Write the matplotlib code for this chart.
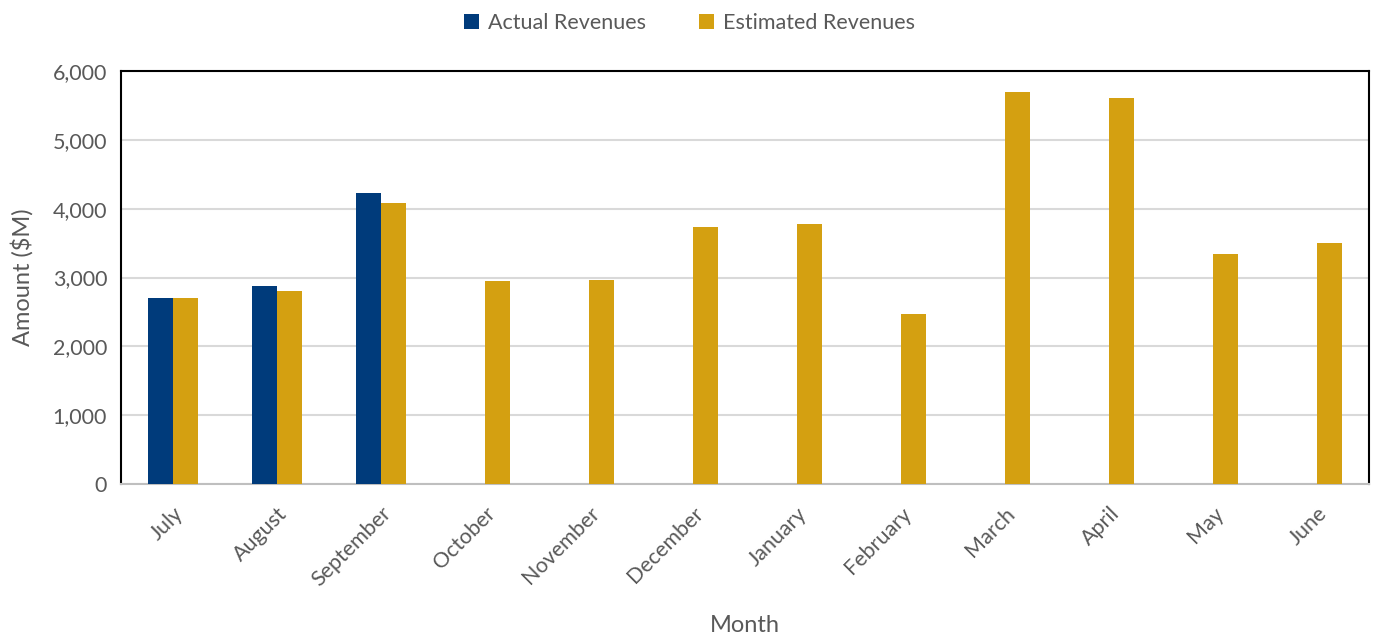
import numpy as np
import matplotlib.pyplot as plt
from matplotlib.ticker import FuncFormatter

months = ['July', 'August', 'September', 'October', 'November', 'December',
          'January', 'February', 'March', 'April', 'May', 'June']
actual = [2700, 2870, 4230, np.nan, np.nan, np.nan,
          np.nan, np.nan, np.nan, np.nan, np.nan, np.nan]
estimated = [2700, 2805, 4085, 2950, 2965, 3735,
             3780, 2470, 5690, 5610, 3340, 3505]

plt.rcParams['font.family'] = ['Lato', 'DejaVu Sans']
grey = '#595959'

fig = plt.figure(figsize=(13.79, 6.35), dpi=100)
ax = fig.add_axes([121/1379, 1-484/635, 1248/1379, 413/635])

x = np.arange(len(months))
w = 0.24
ax.bar(x - w/2, actual, w, color='#003B7B', label='Actual Revenues', zorder=3)
ax.bar(x + w/2, estimated, w, color='#D4A011', label='Estimated Revenues', zorder=3)

ax.set_xlim(-0.5, len(months) - 0.5)
ax.set_ylim(0, 6000)
ax.set_yticks(range(0, 6001, 1000))
ax.yaxis.set_major_formatter(FuncFormatter(lambda v, p: f'{int(v):,}'))
ax.grid(axis='y', color='#D9D9D9', linewidth=1.5, zorder=0)
ax.set_xticks(x)
ax.set_xticklabels(months, rotation=45, ha='right', rotation_mode='anchor')
ax.tick_params(axis='both', length=0, labelsize=15.5, colors=grey, pad=10)
ax.tick_params(axis='x', pad=14)

for s in ['top', 'left', 'right']:
    ax.spines[s].set_color('black')
    ax.spines[s].set_linewidth(1.5)
ax.spines['bottom'].set_color('#BFBFBF')
ax.spines['bottom'].set_linewidth(1.5)

ax.set_xlabel('Month', fontsize=17, color=grey, labelpad=18)
ax.set_ylabel('Amount ($M)', fontsize=17, color=grey, labelpad=14)

fig.legend(loc='upper center', bbox_to_anchor=(0.5, 1.01), ncol=2, frameon=False,
           fontsize=15.5, labelcolor=grey, handlelength=0.7, handleheight=0.7,
           columnspacing=2.5, handletextpad=0.4)

fig.savefig('out.png', dpi=100)
